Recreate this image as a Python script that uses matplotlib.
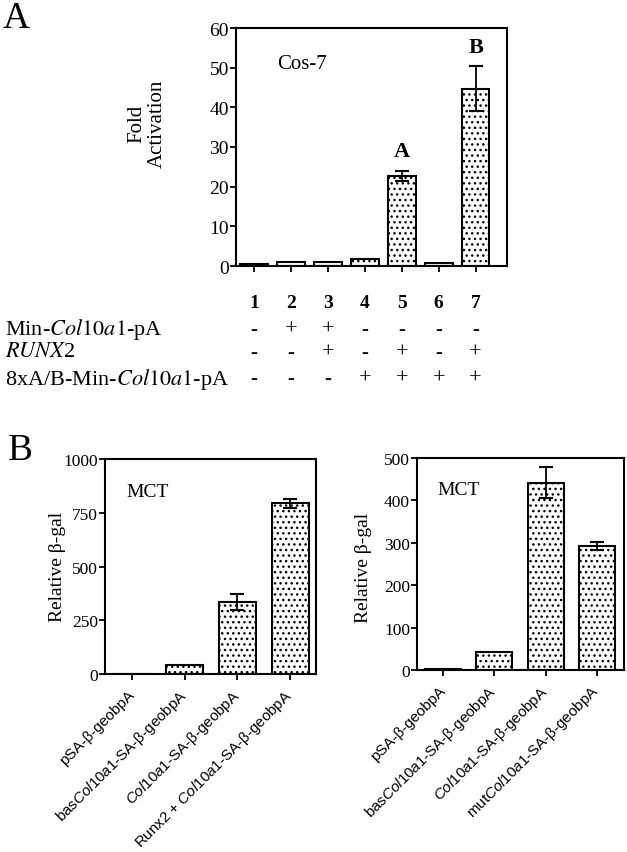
import numpy as np
import matplotlib
matplotlib.use('Agg')
import matplotlib.pyplot as plt
from matplotlib.transforms import blended_transform_factory

# ---- data ----
lanes = [1, 2, 3, 4, 5, 6, 7]
fold = [0.6, 1.0, 1.0, 1.8, 22.7, 0.8, 44.7]
fold_err = [0, 0, 0, 0, 1.2, 0, 5.6]
fold_marks = {5: 'A', 7: 'B'}
row_labels = ['Min-$\\mathit{Col10a1}$-pA', '$\\mathit{RUNX}$2',
              '8xA/B-Min-$\\mathit{Col10a1}$-pA']
row_signs = [['-', '+', '+', '-', '-', '-', '-'],
             ['-', '-', '+', '-', '+', '-', '+'],
             ['-', '-', '-', '+', '+', '+', '+']]

b1_names = ['pSA-β-geobpA', 'bas$\\mathit{Col10a1}$-SA-β-geobpA',
            '$\\mathit{Col10a1}$-SA-β-geobpA',
            'Runx2 + $\\mathit{Col10a1}$-SA-β-geobpA']
b1_vals = [2, 42, 336, 794]
b1_err = [0, 0, 36, 22]

b2_names = ['pSA-β-geobpA', 'bas$\\mathit{Col10a1}$-SA-β-geobpA',
            '$\\mathit{Col10a1}$-SA-β-geobpA',
            'mut$\\mathit{Col10a1}$-SA-β-geobpA']
b2_vals = [3, 43, 442, 293]
b2_err = [0, 0, 37, 10]

plt.rcParams['font.family'] = 'Liberation Serif'
plt.rcParams['mathtext.fontset'] = 'custom'
plt.rcParams['mathtext.rm'] = 'Liberation Sans'
plt.rcParams['mathtext.it'] = 'Liberation Sans:italic'
plt.rcParams['hatch.linewidth'] = 1.0

W, H = 627, 853
fig = plt.figure(figsize=(W / 100, H / 100), dpi=100)


def px_axes(l, t, r, b):
    return fig.add_axes([l / W, 1 - b / H, (r - l) / W, (b - t) / H])


def style(ax):
    for s in ax.spines.values():
        s.set_linewidth(1.5)
    ax.tick_params(direction='out', length=4, width=1.3)


def bars(ax, x, vals, errs, width):
    ax.bar(x, vals, width=width, color='white', edgecolor='black',
           linewidth=1.5, hatch='...', zorder=2)
    idx = [i for i, e in enumerate(errs) if e > 0]
    ax.errorbar([x[i] for i in idx], [vals[i] for i in idx],
                yerr=[errs[i] for i in idx], fmt='none', ecolor='black',
                elinewidth=1.3, capsize=5, capthick=1.5, zorder=3)


# ---- panel A ----
axA = px_axes(236, 29, 507, 267)
style(axA)
bars(axA, lanes, fold, fold_err, 0.75)
axA.set_xlim(0.51, 7.85)
axA.set_ylim(0, 60)
axA.set_yticks(range(0, 61, 10))
axA.set_xticks(lanes)
axA.set_xticklabels([])
axA.tick_params(axis='y', labelsize=14, pad=1)
axA.text(0.15, 0.85, 'Cos-7', transform=axA.transAxes, fontsize=15,
         va='center')
for k, lab in fold_marks.items():
    top = fold[k - 1] + fold_err[k - 1]
    axA.annotate(lab, (k, top), xytext=(0, 7), textcoords='offset points',
                 ha='center', va='bottom', fontsize=16, fontweight='bold')
fig.text(147 / W, 1 - 124 / H, 'Fold\nActivation', rotation=90,
         ha='center', va='center', fontsize=15, multialignment='center',
         linespacing=1.1)

tr = blended_transform_factory(axA.transData, fig.transFigure)
for x in lanes:
    axA.text(x, 1 - 303 / H, str(x), transform=tr, ha='center',
             va='center', fontsize=14, fontweight='bold')
row_y = [330, 353, 379]
for lab, signs, y in zip(row_labels, row_signs, row_y):
    fig.text(5 / W, 1 - y / H, lab, ha='left', va='center', fontsize=16,
             math_fontfamily='stix')
    for x, s in zip(lanes, signs):
        if s == '+':
            axA.text(x, 1 - y / H, s, transform=tr, ha='center',
                     va='center', fontsize=16)
        else:
            axA.text(x, 1 - y / H, s, transform=tr, ha='center',
                     va='center', fontsize=15, fontweight='bold')

# ---- panel B ----
pos = [0, 1, 2, 3]
axB1 = px_axes(105, 460, 316, 675)
style(axB1)
bars(axB1, pos, b1_vals, b1_err, 0.7)
axB1.set_xlim(-0.51, 3.49)
axB1.set_ylim(0, 1000)
axB1.set_yticks([0, 250, 500, 750, 1000])

axB2 = px_axes(417, 459, 624, 671)
style(axB2)
bars(axB2, pos, b2_vals, b2_err, 0.7)
axB2.set_xlim(-0.51, 3.53)
axB2.set_ylim(0, 500)
axB2.set_yticks([0, 100, 200, 300, 400, 500])

for ax, names in [(axB1, b1_names), (axB2, b2_names)]:
    ax.set_xticks(pos)
    ax.set_xticklabels(names, rotation=45, ha='right', va='center',
                       rotation_mode='anchor', family='Liberation Sans',
                       fontsize=10.9)
    ax.tick_params(axis='x', pad=9)
    ax.tick_params(axis='y', labelsize=12.5, pad=1)
    ax.text(0.1, 0.85, 'MCT', transform=ax.transAxes, fontsize=14,
            va='center')

fig.text(57 / W, 1 - 567 / H, 'Relative β-gal', rotation=90, ha='center',
         va='center', fontsize=14)
fig.text(363 / W, 1 - 568 / H, 'Relative β-gal', rotation=90, ha='center',
         va='center', fontsize=14)

fig.text(3 / W, 1 - 28 / H, 'A', fontsize=27, ha='left', va='baseline')
fig.text(8 / W, 1 - 460 / H, 'B', fontsize=27, ha='left', va='baseline')

fig.savefig('out.png', dpi=100)
